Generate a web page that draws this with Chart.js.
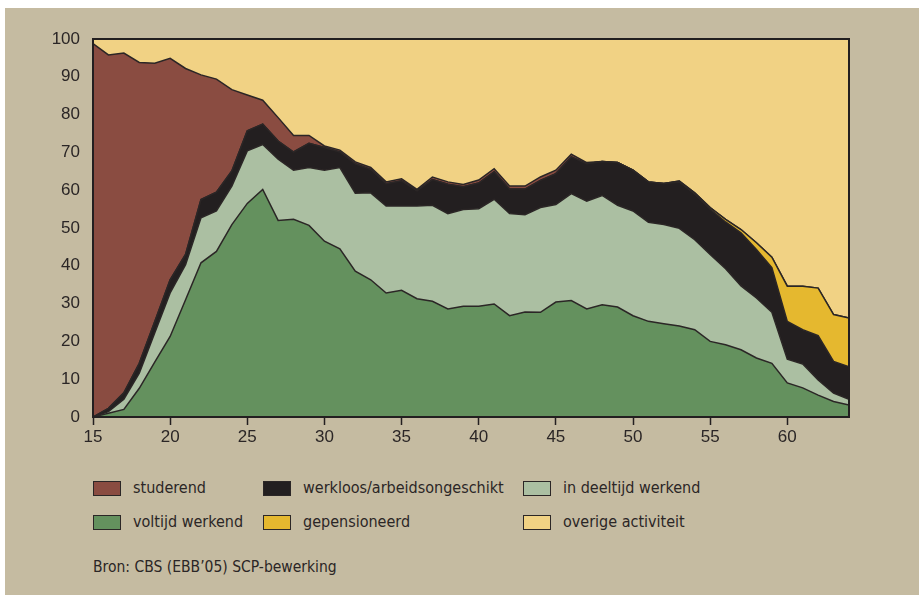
<!DOCTYPE html>
<html>
<head>
<meta charset="utf-8">
<script src="https://cdn.jsdelivr.net/npm/chart.js@4/dist/chart.umd.min.js"></script>
<style>
  body { margin: 0; background: #fff; }
  #panel { position: absolute; left: 5px; top: 8px; width: 914px; height: 587px; background: #c5bba1; }
  #wrap { position: absolute; left: 0; top: 0; width: 919px; height: 460px; }
  .leg { position: absolute; font-family: "Liberation Sans Narrow", "DejaVu Sans Condensed", sans-serif; font-size: 16px; color: #2b2626; line-height: 16px; white-space: nowrap; }
  .box { position: absolute; width: 26px; height: 13px; border: 1px solid #2b2626; }
</style>
</head>
<body>
<div id="panel"></div>
<div id="wrap"><canvas id="grafiek" width="919" height="460"></canvas></div>
<div id="legenda"></div>
<div class="leg" style="left:93px; top:559px; font-size:15.5px;">Bron: CBS (EBB’05) SCP-bewerking</div>
<script>
// leeftijd 15 t/m 64, aandelen in procenten
const leeftijden = [15,16,17,18,19,20,21,22,23,24,25,26,27,28,29,30,31,32,33,34,35,36,37,38,39,40,41,42,43,44,45,46,47,48,49,50,51,52,53,54,55,56,57,58,59,60,61,62,63,64];

const voltijd = [0,1,2,7.6,14.5,21.3,31,40.8,43.8,50.9,56.5,60.2,52,52.3,50.7,46.5,44.5,38.6,36.3,32.8,33.5,31.3,30.6,28.6,29.3,29.3,29.9,26.8,27.8,27.7,30.4,30.8,28.6,29.7,29.1,26.8,25.3,24.7,24.1,23.1,20,19.1,17.8,15.6,14.2,9,7.7,5.8,4.1,3.2];
const deeltijd = [0,0.4,2.7,4,7.7,11.5,9.3,11.9,10.7,10.2,13.9,11.9,16.2,13,15.3,18.8,21.5,20.6,23,23,22.3,24.5,25.4,25.2,25.6,25.8,27.7,27,25.7,27.7,25.8,28.3,28.5,28.9,26.9,27.7,26.2,26.2,25.8,23.8,23,20.1,16.9,15.9,13.5,6.3,6.3,4,2.2,1.5];
const werkloos = [0,0.9,1.7,2.6,3,3.5,2.7,4.8,5,4,5.3,5.4,4.8,4.8,6.4,6,4.1,7.8,6.2,5.9,6.7,4,6.8,7.8,6,6.8,7.3,6.5,6.8,7.2,8.2,9.7,9.9,9,11.3,10.8,10.7,10.9,12.3,12.1,12,12.4,14,12.8,11.8,10,9.1,11.7,8.4,8.6];
const gepensioneerd = [0,0,0,0,0,0,0,0,0,0,0,0,0,0,0,0,0,0,0,0,0,0,0,0,0,0,0,0,0,0,0,0,0,0,0,0,0,0,0.2,0.3,0.4,0.7,0.9,1.8,2.8,9.3,11.5,12.6,12.4,12.9];
const studerend = [98.8,93.5,89.9,79.6,68.4,58.6,49.2,33,29.9,21.5,9.5,6.3,6.2,4.4,2.1,0.4,0.5,0.5,0.5,0.5,0.5,0.4,0.7,0.6,0.6,0.8,0.8,0.8,0.8,0.9,0.9,0.7,0.3,0,0,0,0,0,0,0,0,0,0,0,0,0,0,0,0,0];
const overig = [1.2,4.2,3.7,6.2,6.4,5.1,7.8,9.5,10.6,13.4,14.8,16.2,20.8,25.5,25.5,28.3,29.4,32.5,34,37.8,37,39.8,36.5,37.8,38.5,37.3,34.3,38.9,38.9,36.5,34.7,30.5,32.7,32.4,32.7,34.7,37.8,38.2,37.6,40.7,44.6,47.7,50.4,53.9,57.7,65.4,65.4,65.9,72.9,73.8];

const yTicks = [0,10,20,30,40,50,60,70,80,90,100];

const lijn = "#2b2626";
const reeksen = [
  { label: "voltijd werkend", data: voltijd, kleur: "#64915e" },
  { label: "in deeltijd werkend", data: deeltijd, kleur: "#abbfa2" },
  { label: "werkloos/arbeidsongeschikt", data: werkloos, kleur: "#231f20" },
  { label: "gepensioneerd", data: gepensioneerd, kleur: "#e5b82f" },
  { label: "studerend", data: studerend, kleur: "#8a4c41" },
  { label: "overige activiteit", data: overig, kleur: "#f1d284" }
];

// legenda zoals in het origineel (3 kolommen, 2 rijen)
const legendaPlek = {
  "studerend": [93, 481], "werkloos/arbeidsongeschikt": [263, 481], "in deeltijd werkend": [523, 481],
  "voltijd werkend": [93, 515], "gepensioneerd": [263, 515], "overige activiteit": [523, 515]
};
const legenda = document.getElementById("legenda");
reeksen.forEach(r => {
  const [x, y] = legendaPlek[r.label];
  const b = document.createElement("div");
  b.className = "box";
  b.style.left = x + "px"; b.style.top = y + "px"; b.style.background = r.kleur;
  legenda.appendChild(b);
  const t = document.createElement("div");
  t.className = "leg";
  t.style.left = (x + 40) + "px"; t.style.top = (y - 1) + "px";
  t.textContent = r.label;
  legenda.appendChild(t);
});

const kader = {
  id: "kader",
  afterDatasetsDraw(chart) {
    const { ctx, chartArea: a } = chart;
    ctx.save();
    ctx.strokeStyle = "#231f20";
    ctx.lineWidth = 2;
    ctx.strokeRect(a.left, a.top, a.right - a.left, a.bottom - a.top);
    ctx.restore();
  }
};

new Chart(document.getElementById("grafiek"), {
  type: "line",
  data: {
    labels: leeftijden,
    datasets: reeksen.map((r, i) => ({
      label: r.label,
      data: r.data,
      backgroundColor: r.kleur,
      borderColor: lijn,
      borderWidth: 1.5,
      pointRadius: 0,
      tension: 0,
      fill: i === 0 ? "origin" : "-1"
    }))
  },
  options: {
    responsive: false,
    animation: false,
    layout: { padding: { left: 0, top: 39, right: 70, bottom: 0 } },
    plugins: { legend: { display: false }, tooltip: { enabled: false } },
    scales: {
      x: {
        type: "linear",
        min: 15,
        max: 64,
        border: { display: false },
        grid: { drawOnChartArea: false, tickLength: 8, tickColor: "#231f20", tickWidth: 1.5 },
        ticks: { stepSize: 5, includeBounds: false, padding: 2, color: "#2b2626",
          font: { family: "Liberation Sans", size: 17 } },
        afterFit: s => { s.height = 43; }
      },
      y: {
        stacked: true,
        min: 0,
        max: 100,
        border: { display: false },
        grid: { display: false },
        afterBuildTicks: s => { s.ticks = yTicks.map(v => ({ value: v })); },
        ticks: { padding: 5, color: "#2b2626", font: { family: "Liberation Sans", size: 17 } },
        afterFit: s => { s.width = 93; }
      }
    }
  },
  plugins: [kader]
});
</script>
</body>
</html>
